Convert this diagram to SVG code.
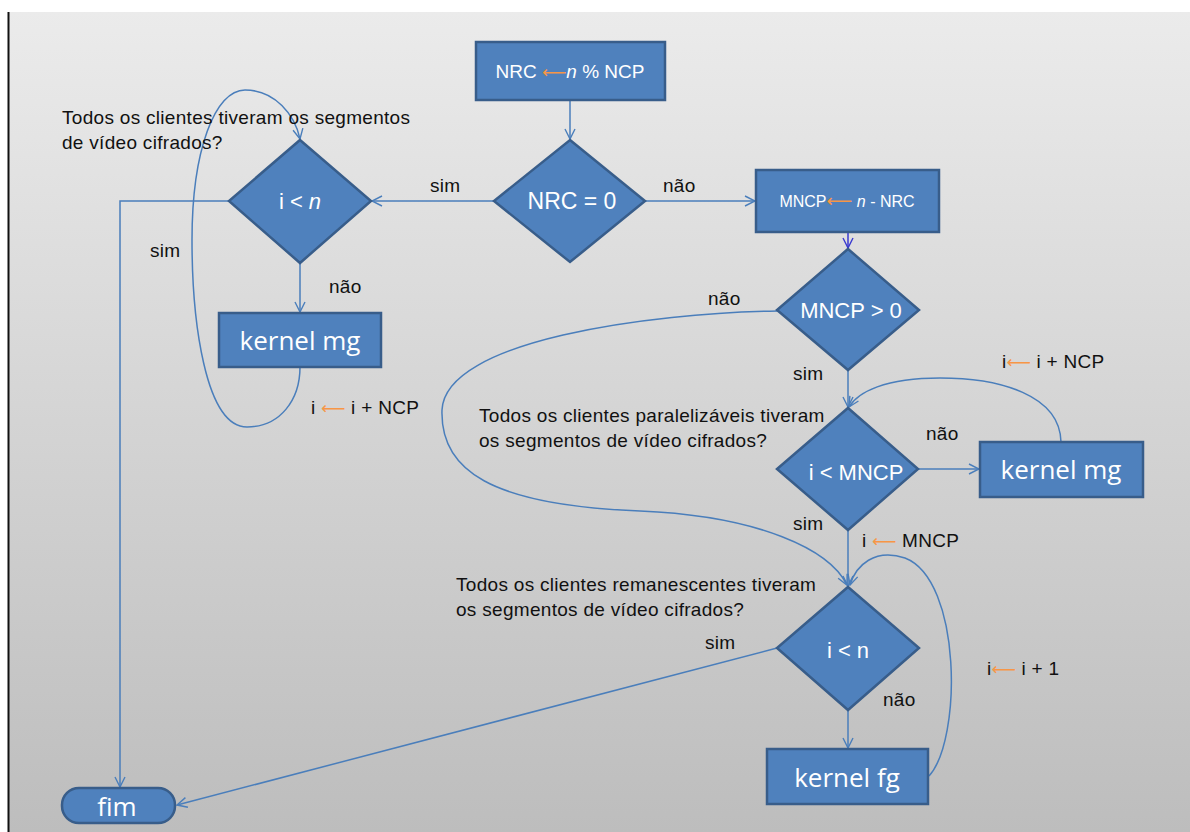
<svg xmlns="http://www.w3.org/2000/svg" width="1190" height="832" viewBox="0 0 1190 832">
<defs>
<linearGradient id="bg" x1="0" y1="0" x2="0" y2="1">
<stop offset="0" stop-color="#ebebeb"/>
<stop offset="1" stop-color="#bdbdbd"/>
</linearGradient>
<marker id="ar" viewBox="0 0 12 12" refX="11" refY="6" markerWidth="12" markerHeight="12" markerUnits="userSpaceOnUse" orient="auto">
<path d="M1,1 L11,6 L1,11" fill="none" stroke="#4a7ebb" stroke-width="1.4"/>
</marker>
<marker id="ar2" viewBox="0 0 12 12" refX="11" refY="6" markerWidth="12" markerHeight="12" markerUnits="userSpaceOnUse" orient="auto">
<path d="M1,1 L11,6 L1,11" fill="none" stroke="#3a3ad0" stroke-width="1.4"/>
</marker>
<style>
.sh{fill:#4f81bd;stroke:#385d8a;stroke-width:2.5}
.c{fill:none;stroke:#4a7ebb;stroke-width:1.5}
.w{fill:#fff;font-family:"Liberation Sans",Arial,sans-serif;text-anchor:middle}
.k{fill:#fff;font-family:"Open Sans","Noto Sans",sans-serif;text-anchor:middle}
.t{fill:#111;font-family:"Liberation Sans",Arial,sans-serif;font-size:19px;letter-spacing:0.3px}
.o{fill:#f79646;font-family:"DejaVu Sans",sans-serif;font-style:normal;letter-spacing:0}
</style>
</defs>
<rect x="0" y="0" width="1190" height="832" fill="#fff"/>
<rect x="9" y="12" width="1181" height="820" fill="url(#bg)"/>
<line x1="8.5" y1="12" x2="8.5" y2="832" stroke="#111" stroke-width="2"/>

<g id="connectors">
<line class="c" x1="570" y1="100" x2="570" y2="139" marker-end="url(#ar)"/>
<line class="c" x1="645" y1="201" x2="755" y2="201" marker-end="url(#ar)"/>
<line class="c" x1="494" y1="201" x2="372" y2="201" marker-end="url(#ar)"/>
<line x1="848" y1="232" x2="848" y2="248" fill="none" stroke="#3a3ad0" stroke-width="1.5" marker-end="url(#ar2)"/>
<line class="c" x1="848" y1="370" x2="848" y2="407" marker-end="url(#ar)"/>
<path class="c" d="M778,311 C650,313 445,340 442,410 C440,470 490,505 640,511 C760,516 830,550 847,585" marker-end="url(#ar)"/>
<line class="c" x1="918" y1="469" x2="979" y2="469" marker-end="url(#ar)"/>
<path class="c" d="M1061,442 C1060,395 1000,378 940,378 C885,378 858,392 849,407" marker-end="url(#ar)"/>
<line class="c" x1="848" y1="530" x2="848" y2="586" marker-end="url(#ar)"/>
<line class="c" x1="848" y1="710" x2="848" y2="748" marker-end="url(#ar)"/>
<path class="c" d="M929,776 C962,740 962,580 905,558 C875,548 856,565 850,585" marker-end="url(#ar)"/>
<line class="c" x1="777" y1="648" x2="177" y2="805" marker-end="url(#ar)"/>
<polyline class="c" points="229,201 120,201 120,787" marker-end="url(#ar)"/>
<line class="c" x1="300" y1="263" x2="300" y2="312" marker-end="url(#ar)"/>
<path class="c" d="M300,367 C300,400 280,427 247,427 C205,427 192,320 192,240 C192,150 215,90 245,90 C275,90 295,115 300,139" marker-end="url(#ar)"/>
</g>

<g id="n-nrc">
<rect class="sh" x="476" y="42" width="189" height="58"/>
<text class="w" x="570" y="78" font-size="19">NRC <tspan class="o" font-size="17">⟵</tspan><tspan font-style="italic">n</tspan> % NCP</text>
</g>
<g id="n-nrc0">
<polygon class="sh" points="570,140 645,201 570,262 494,201"/>
<text class="w" x="572" y="209" font-size="23">NRC = 0</text>
</g>
<g id="n-mncp">
<rect class="sh" x="756" y="170" width="183" height="62"/>
<text class="w" x="847" y="207" font-size="16">MNCP<tspan class="o" font-size="18">⟵</tspan> <tspan font-style="italic">n</tspan> - NRC</text>
</g>
<g id="n-mncp0">
<polygon class="sh" points="848,249 919,310 848,370 777,310"/>
<text class="w" x="851" y="318" font-size="22">MNCP &gt; 0</text>
</g>
<g id="n-imncp">
<polygon class="sh" points="848,408 918,469 848,530 777,469"/>
<text class="w" x="856" y="480" font-size="22">i &lt; MNCP</text>
</g>
<g id="n-kmg2">
<rect class="sh" x="980" y="442" width="163" height="55"/>
<text class="k" x="1061" y="479" font-size="26">kernel mg</text>
</g>
<g id="n-in2">
<polygon class="sh" points="848,587 919,648 848,710 777,648"/>
<text class="w" x="848" y="658" font-size="22">i &lt; n</text>
</g>
<g id="n-kfg">
<rect class="sh" x="767" y="749" width="161" height="55"/>
<text class="k" x="847" y="787" font-size="26">kernel fg</text>
</g>
<g id="n-fim">
<rect class="sh" x="62" y="788" width="113" height="35" rx="17" ry="17"/>
<text class="k" x="117" y="816" font-size="26">fim</text>
</g>
<g id="n-in1">
<polygon class="sh" points="300,140 371,201 300,263 229,201"/>
<text class="w" x="300" y="209" font-size="22">i &lt; <tspan font-style="italic">n</tspan></text>
</g>
<g id="n-kmg1">
<rect class="sh" x="219" y="313" width="162" height="54"/>
<text class="k" x="300" y="350" font-size="26">kernel mg</text>
</g>

<g id="labels">
<text class="t" x="62" y="124">Todos os clientes tiveram os segmentos</text>
<text class="t" x="62" y="149">de vídeo cifrados?</text>
<text class="t" x="430" y="192">sim</text>
<text class="t" x="663" y="192">não</text>
<text class="t" x="150" y="257">sim</text>
<text class="t" x="329" y="293">não</text>
<text class="t" x="311" y="414">i <tspan class="o" font-size="17">⟵</tspan>  i + NCP</text>
<text class="t" x="708" y="305">não</text>
<text class="t" x="793" y="380">sim</text>
<text class="t" x="1002" y="368">i<tspan class="o" font-size="17">⟵</tspan>  i + NCP</text>
<text class="t" x="479" y="422">Todos os clientes paralelizáveis tiveram</text>
<text class="t" x="479" y="447">os segmentos de vídeo cifrados?</text>
<text class="t" x="926" y="440">não</text>
<text class="t" x="793" y="530">sim</text>
<text class="t" x="862" y="547">i <tspan class="o" font-size="17">⟵</tspan>  MNCP</text>
<text class="t" x="456" y="591">Todos os clientes remanescentes tiveram</text>
<text class="t" x="456" y="616">os segmentos de vídeo cifrados?</text>
<text class="t" x="705" y="649">sim</text>
<text class="t" x="883" y="706">não</text>
<text class="t" x="987" y="675">i<tspan class="o" font-size="17">⟵</tspan>  i + 1</text>
</g>
</svg>
